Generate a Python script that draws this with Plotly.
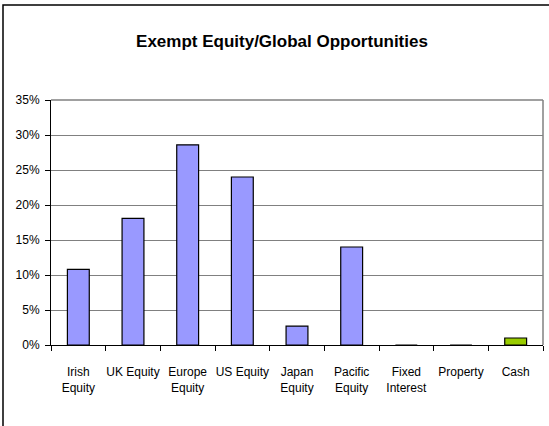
import plotly.graph_objects as go

# Asset allocation (% of fund)
categories = ["Irish<br>Equity", "UK Equity", "Europe<br>Equity", "US Equity", "Japan<br>Equity",
              "Pacific<br>Equity", "Fixed<br>Interest", "Property", "Cash"]
weights = [10.8, 18.1, 28.6, 24.0, 2.7, 14.0, 0.0, 0.0, 1.0]
bar_colors = ["#9999FF"] * 8 + ["#99CC00"]
y_ticks = [0, 5, 10, 15, 20, 25, 30, 35]
y_labels = [f"{v}%" for v in y_ticks]

W, H = 549, 426
L, R, T, B = 51, 6, 100, 81
pw, ph = W - L - R, H - T - B
FONT = "Liberation Sans, Arial, sans-serif"

fig = go.Figure()
fig.add_trace(go.Bar(
    x=categories,
    y=weights,
    marker=dict(color=bar_colors, line=dict(color="black", width=1.2)),
    width=0.4,
    showlegend=False,
    hovertemplate="%{x}: %{y}%<extra></extra>",
))

fig.update_layout(
    width=W, height=H,
    margin=dict(l=L, r=R, t=T, b=B),
    paper_bgcolor="white",
    plot_bgcolor="white",
    font=dict(family=FONT, size=12, color="black"),
    title=dict(text="<b>Exempt Equity/Global Opportunities</b>", x=282 / W, xanchor="center",
               y=1 - 41 / H, yanchor="middle", font=dict(size=17)),
)

fig.update_xaxes(
    range=[-0.5, len(categories) - 0.5],
    showline=True, linecolor="black", linewidth=1,
    ticks="outside", ticklen=5, tickcolor="black", tickson="boundaries",
    showgrid=False, ticklabelstandoff=16, tickangle=0,
)
fig.update_yaxes(
    range=[0, 35],
    tickvals=y_ticks, ticktext=y_labels,
    showline=True, linecolor="black", linewidth=1,
    ticks="outside", ticklen=5, tickcolor="black",
    showgrid=True, gridcolor="#808080", gridwidth=1,
    zeroline=False, ticklabelstandoff=3,
)

# gray frame on top/right of plot area
fig.add_shape(type="line", xref="paper", yref="paper", x0=0, x1=1, y0=1, y1=1,
              line=dict(color="#808080", width=1.5))
fig.add_shape(type="line", xref="paper", yref="paper", x0=1, x1=1, y0=0, y1=1,
              line=dict(color="#808080", width=1.5))

# outer chart border
fig.add_shape(type="rect", xref="paper", yref="paper",
              x0=(3 - L) / pw, x1=(W + 5 - L) / pw,
              y0=-(B + 5) / ph, y1=1 + (T - 5) / ph,
              line=dict(color="black", width=1.5), layer="below")

# drop the browser's default body margin so the figure sits at the page origin
fig.write_html("out.html", config={"displayModeBar": False},
               post_script="document.body.style.margin='0';")
